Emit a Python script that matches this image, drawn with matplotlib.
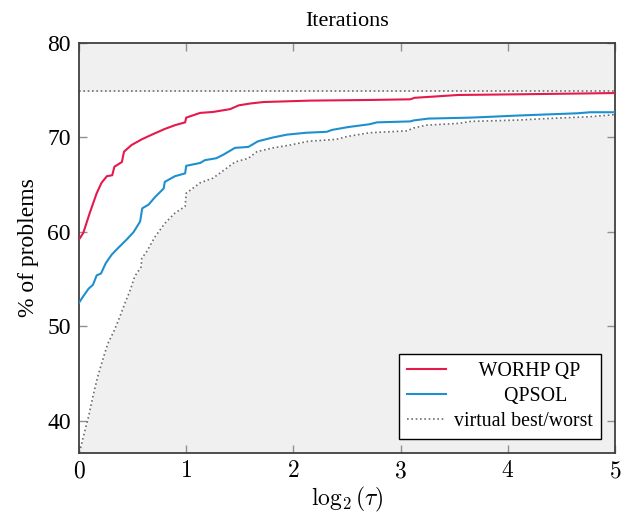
import numpy as np
import matplotlib
matplotlib.use('Agg')
import matplotlib.pyplot as plt

plt.rcParams['font.family'] = ['Liberation Serif', 'DejaVu Serif']
plt.rcParams['mathtext.fontset'] = 'cm'

# WORHP QP profile (log2 tau, % of problems)
worhp_x = [0.0, 0.04, 0.10, 0.165, 0.21, 0.26, 0.31, 0.33, 0.40, 0.42, 0.49, 0.585, 0.68,
           0.80, 0.895, 0.99, 1.0, 1.13, 1.25, 1.41, 1.49, 1.6, 1.72, 2.15, 2.71, 3.09,
           3.13, 3.27, 3.54, 4.11, 4.98, 5.0]
worhp_y = [59.2, 59.9, 62.0, 64.1, 65.2, 65.9, 66.0, 66.9, 67.4, 68.5, 69.2, 69.8, 70.3,
           70.9, 71.3, 71.6, 72.1, 72.6, 72.7, 73.0, 73.4, 73.6, 73.75, 73.9, 73.97, 74.04,
           74.2, 74.3, 74.5, 74.57, 74.7, 74.7]

# QPSOL profile
qpsol_x = [0.0, 0.04, 0.09, 0.13, 0.165, 0.205, 0.25, 0.305, 0.365, 0.445, 0.51, 0.57,
           0.59, 0.65, 0.71, 0.79, 0.80, 0.895, 0.99, 1.0, 1.13, 1.175, 1.28, 1.35, 1.455,
           1.58, 1.67, 1.81, 1.94, 2.12, 2.31, 2.36, 2.51, 2.71, 2.78, 3.09, 3.12, 3.26,
           3.65, 3.86, 4.05, 4.39, 4.65, 4.77, 5.0]
qpsol_y = [52.5, 53.2, 54.0, 54.4, 55.4, 55.6, 56.7, 57.6, 58.3, 59.2, 60.0, 61.1,
           62.5, 62.9, 63.7, 64.6, 65.3, 65.9, 66.2, 67.0, 67.3, 67.6, 67.8, 68.2, 68.9,
           69.0, 69.6, 70.0, 70.3, 70.5, 70.6, 70.8, 71.1, 71.4, 71.6, 71.7, 71.8, 72.0,
           72.1, 72.2, 72.3, 72.45, 72.56, 72.67, 72.67]

# virtual worst
worst_x = [0.0, 0.01, 0.04, 0.09, 0.13, 0.175, 0.23, 0.27, 0.33, 0.38, 0.43, 0.48, 0.52,
           0.58, 0.585, 0.63, 0.71, 0.80, 0.895, 0.99, 1.0, 1.13, 1.25, 1.36, 1.455, 1.58,
           1.66, 1.81, 1.97, 2.14, 2.40, 2.50, 2.71, 3.06, 3.12, 3.24, 3.55, 3.65, 4.11,
           4.36, 4.77, 4.98, 5.0]
worst_y = [36.7, 36.9, 38.3, 40.5, 42.6, 44.7, 46.8, 48.2, 49.6, 51.0, 52.5, 53.9, 55.3,
           56.3, 57.2, 57.9, 59.5, 60.9, 62.0, 62.7, 64.1, 65.2, 65.7, 66.6, 67.4, 67.8,
           68.5, 68.9, 69.2, 69.6, 69.8, 70.1, 70.5, 70.7, 71.0, 71.3, 71.5, 71.7, 71.85,
           72.0, 72.2, 72.4, 72.4]

# virtual best
best_x = [0.0, 5.0]
best_y = [74.9, 74.9]

red = '#E5194B'
blue = '#1E8FCF'
grey = '#6e6e6e'

fig = plt.figure(figsize=(6.32, 5.17), dpi=100)
ax = fig.add_axes([79/632, 1-453/517, (615-79)/632, (453-43)/517])
ax.set_facecolor('#f0f0f0')

# white area between virtual worst and virtual best
wx = np.array(worst_x)
wy = np.array(worst_y)
ax.fill_between(wx, wy, np.full_like(wy, best_y[0]), color='white', lw=0, zorder=1)

ax.plot(worhp_x, worhp_y, color=red, lw=1.5, label='     WORHP QP', zorder=3)
ax.plot(qpsol_x, qpsol_y, color=blue, lw=1.5, label='          QPSOL', zorder=3)
ax.plot(worst_x, worst_y, color=grey, lw=1.2, ls=(0, (1, 1.6)),
        label='virtual best/worst', zorder=2)
ax.plot(best_x, best_y, color=grey, lw=1.2, ls=(0, (1, 1.6)), zorder=2)

ax.set_xlim(0, 5)
ax.set_ylim(36.6, 80)
ax.set_xticks([0, 1, 2, 3, 4, 5])
ax.set_xticklabels(['$%d$' % v for v in range(6)])
ax.set_yticks([40, 50, 60, 70, 80])
ax.tick_params(direction='in', length=6, width=1, color='#909090', labelsize=17,
               top=True, right=True, pad=6)
for s in ax.spines.values():
    s.set_color('#404040')
    s.set_linewidth(1.3)

ax.set_title('Iterations', fontsize=16, pad=12)
ax.set_xlabel(r'$\log_2(\tau)$', fontsize=17, labelpad=2)
ax.set_ylabel('% of problems', fontsize=17, labelpad=6)

leg = ax.legend(loc='lower right', fontsize=14.3, frameon=True, fancybox=False,
                edgecolor='black', framealpha=1, borderaxespad=0.7,
                handlelength=2.0, handletextpad=0.4, labelspacing=0.3,
                borderpad=0.4)
leg.get_frame().set_linewidth(1.0)

fig.savefig('out.png', dpi=100)
